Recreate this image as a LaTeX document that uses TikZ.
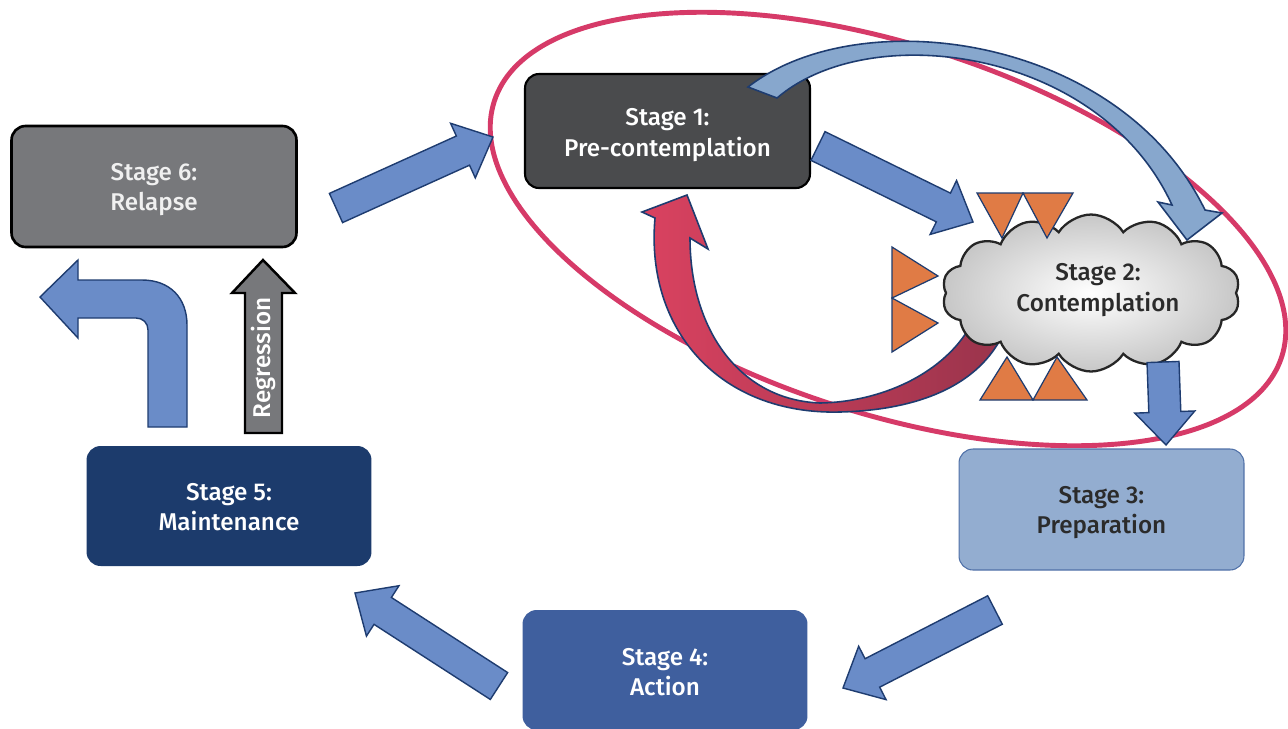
\documentclass[tikz,border=0pt]{standalone}
\usepackage{fontspec}
\setmainfont{Fira Sans}[UprightFont={* Medium}]
\usetikzlibrary{calc,shapes.symbols}
\definecolor{sOne}{HTML}{4A4B4D}
\definecolor{sSix}{HTML}{77787B}
\definecolor{sFive}{HTML}{1C3B6C}
\definecolor{sFour}{HTML}{3F5F9E}
\definecolor{sThree}{HTML}{93ADD0}
\definecolor{sThreeB}{HTML}{5071A8}
\definecolor{arrowblue}{HTML}{6A8CC8}
\definecolor{navy}{HTML}{1E3C70}
\definecolor{lightarrow}{HTML}{87A7CD}
\definecolor{pinkline}{HTML}{D63A68}
\definecolor{orangetri}{HTML}{E07B45}
\definecolor{darktext}{HTML}{2B2B2B}
\definecolor{redA}{HTML}{DA4260}
\definecolor{redB}{HTML}{9A344C}
\newcommand{\blockarrow}[2]{%
  \coordinate (ba-b) at ($(#2)!0.66cm!(#1)$);
  \path[barrow] ($(#1)!0.32cm!90:(#2)$) -- ($(ba-b)!0.32cm!90:(#2)$) -- ($(ba-b)!0.6cm!90:(#2)$) -- (#2)
     -- ($(ba-b)!0.6cm!-90:(#2)$) -- ($(ba-b)!0.32cm!-90:(#2)$) -- ($(#1)!0.32cm!-90:(#2)$) -- cycle;
}
\begin{document}
\begin{tikzpicture}[x=0.02cm,y=-0.02cm,
  stagebox/.style={rounded corners=0.28cm, minimum width=5.7cm, minimum height=2.4cm, inner sep=0pt},
  stagetext/.style={align=center, inner sep=0pt, font=\fontsize{13.8}{17.5}\selectfont},
  barrow/.style={fill=arrowblue, draw=navy, line width=0.8pt, line join=miter},
  tri/.style={fill=orangetri, draw=navy, line width=0.7pt, line join=miter}]
\useasboundingbox (0,0) rectangle (1288,728);
\fill[white] (0,0) rectangle (1288,728);

% red ellipse
\draw[pinkline, line width=2.8pt, rotate around={-18:(888,229)}] (888,229) ellipse [x radius=8.28cm, y radius=3.68cm];

% stage boxes
\node[stagebox, fill=sOne, draw=black, line width=1.2pt, minimum height=2.28cm] (s1) at (667.5,131) {};
\node[stagetext, text=white] (s1t) at ($(s1.center)+(0,4)$) {Stage 1:\\Pre-contemplation};
\node[stagebox, fill=sSix, draw=black, line width=1.5pt, minimum height=2.42cm] (s6) at (154,186.5) {};
\node[stagetext, text=white!94!black] (s6t) at ($(s6.center)+(0,3)$) {Stage 6:\\Relapse};
\node[stagebox, fill=sFive] (s5) at (229,506) {};
\node[stagetext, text=white] (s5t) at ($(s5.center)+(0,1)$) {Stage 5:\\Maintenance};
\node[stagebox, fill=sFour] (s4) at (665,670) {};
\node[stagetext, text=white] (s4t) at ($(s4.center)+(0,2)$) {Stage 4:\\Action};
\node[stagebox, fill=sThree, draw=sThreeB, line width=0.6pt, minimum height=2.42cm] (s3) at (1101.5,509.5) {};
\node[stagetext, text=darktext] (s3t) at ($(s3.center)+(0,3)$) {Stage 3:\\Preparation};

% straight block arrows
\coordinate (a61t) at (336,208); \coordinate (a61h) at (493,137);
\coordinate (a12t) at (818,146); \coordinate (a12h) at (973,222);
\coordinate (a23t) at (1163,362); \coordinate (a23h) at (1166,445);
\coordinate (a34t) at (995,610); \coordinate (a34h) at (843,688);
\coordinate (a45t) at (499,686); \coordinate (a45h) at (355,593);
\blockarrow{a61t}{a61h}
\blockarrow{a12t}{a12h}
\blockarrow{a34t}{a34h}
\blockarrow{a45t}{a45h}

% light blue arc arrow (stage 1 -> stage 2)
\path[fill=lightarrow, draw=navy, line width=0.9pt, line join=miter]
  (748,87) .. controls (860,0) and (1120,35) .. (1205,210) -- (1222,213) -- (1187,240) -- (1158,202) -- (1172,205)
  .. controls (1100,48) and (870,18) .. (777,98) -- cycle;

% red curved arrow (stage 2 -> stage 1)
\path[left color=redA, right color=redB, draw=navy, line width=0.9pt, line join=miter]
  (655,218) .. controls (645,330) and (720,415) .. (840,412) .. controls (920,410) and (975,385) .. (1000,340)
  -- (968,330) .. controls (940,375) and (880,402) .. (820,403) .. controls (740,400) and (690,330) .. (690,238)
  -- (708,249) -- (687,195) -- (642,212) -- cycle;

% cloud
\node[cloud, cloud puffs=14, cloud puff arc=115, aspect=1.9, minimum width=5.96cm, minimum height=3.14cm,
  draw=black!85, line width=1.3pt, inner color=white, outer color=black!22, inner sep=0pt] (s2) at (1091,293) {};
\node[stagetext, text=darktext] (s2t) at (1098,290) {Stage 2:\\Contemplation};

\blockarrow{a23t}{a23h}

% orange triangles
\path[tri] (977,193) -- (1023,193) -- (1002,238) -- cycle;
\path[tri] (1023,193) -- (1073,193) -- (1047,238) -- cycle;
\path[tri] (892,247) -- (892,298) -- (938,276) -- cycle;
\path[tri] (892,298) -- (892,352) -- (938,323) -- cycle;
\path[tri] (980,400) -- (1033,400) -- (1007,357) -- cycle;
\path[tri] (1033,400) -- (1087,400) -- (1057,357) -- cycle;

% bent arrow from stage 5
\path[barrow]
  (148,427) -- (187,427) -- (187,325) .. controls (187,298) and (170,280) .. (142,280) -- (78,280) -- (78,260)
  -- (40,297) -- (78,338) -- (78,318) -- (136,318) .. controls (143,318) and (148,323) .. (148,330) -- cycle;

% regression arrow
\path[fill=sSix, draw=black, line width=1.4pt, line join=miter]
  (245,433) -- (245,293) -- (232,293) -- (263,260) -- (295,293) -- (282,293) -- (282,433) -- cycle;
\node[rotate=90, text=white, font=\fontsize{13.8}{15}\selectfont, inner sep=0pt] (reg) at (263,358) {Regression};
\end{tikzpicture}
\end{document}
